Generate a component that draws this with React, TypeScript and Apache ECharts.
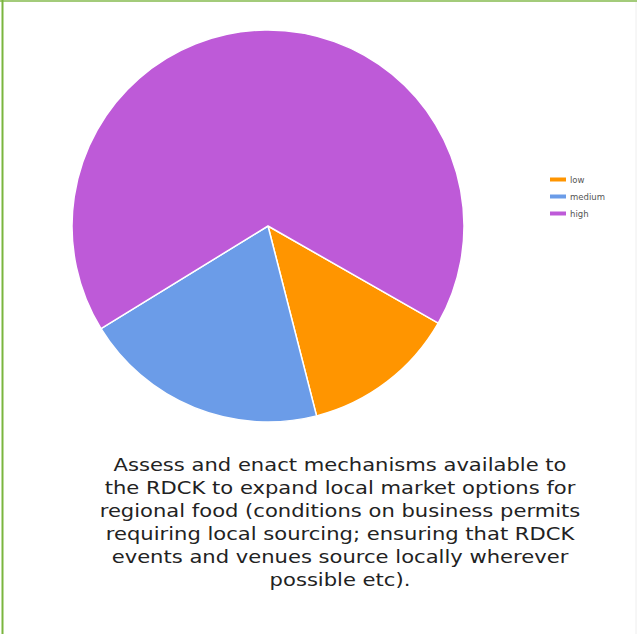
import React, { useEffect, useRef } from "react";
import * as echarts from "echarts";

const categories = ["low", "medium", "high"];
const values = [12, 19, 63];
const colors = ["#FF9500", "#6B9CE8", "#BE5AD8"];
const titleLines = [
  "Assess and enact mechanisms available to",
  "the RDCK to expand local market options for",
  "regional food (conditions on business permits",
  "requiring local sourcing; ensuring that RDCK",
  "events and venues source locally wherever",
  "possible etc).",
];

export default function App() {
  const ref = useRef<HTMLDivElement>(null);
  useEffect(() => {
    const chart = echarts.init(ref.current!, null, { renderer: "svg" });
    chart.setOption({
      animation: false,
      backgroundColor: "#ffffff",
      color: colors,
      legend: {
        orient: "vertical",
        left: 548,
        top: 175,
        padding: 0,
        itemWidth: 18,
        itemHeight: 6,
        itemGap: 8,
        icon: "rect",
        data: categories,
        textStyle: { fontFamily: "DejaVu Sans", fontSize: 8.5, color: "#555", padding: [0, 0, 0, -2] },
      },
      graphic: [
        { type: "line", shape: { x1: 0, y1: 1, x2: 637, y2: 1 }, style: { stroke: "#a3cb7a", lineWidth: 2 } },
        { type: "line", shape: { x1: 2.5, y1: 0, x2: 2.5, y2: 634 }, style: { stroke: "#7ab53e", lineWidth: 2 } },
        { type: "line", shape: { x1: 636, y1: 2, x2: 636, y2: 634 }, style: { stroke: "#eeeeee", lineWidth: 1 } },
        {
          type: "text",
          x: 340,
          y: 453,
          scaleX: 1.14,
          style: {
            text: titleLines.join("\n"),
            fontFamily: "DejaVu Sans",
            fontSize: 18.5,
            lineHeight: 23,
            fill: "#222222",
            textAlign: "center",
            textVerticalAlign: "top",
          },
        },
      ],
      series: [
        {
          type: "pie",
          center: [268, 226],
          radius: 196,
          startAngle: -29.7,
          clockwise: true,
          label: { show: false },
          labelLine: { show: false },
          itemStyle: { borderColor: "#ffffff", borderWidth: 1.5 },
          emphasis: { disabled: true },
          data: categories.map((c, i) => ({ name: c, value: values[i] })),
        },
      ],
    });
    return () => chart.dispose();
  }, []);
  return (
    <div
      ref={ref}
      style={{ position: "fixed", left: 0, top: 0, width: 637, height: 634 }}
    />
  );
}
